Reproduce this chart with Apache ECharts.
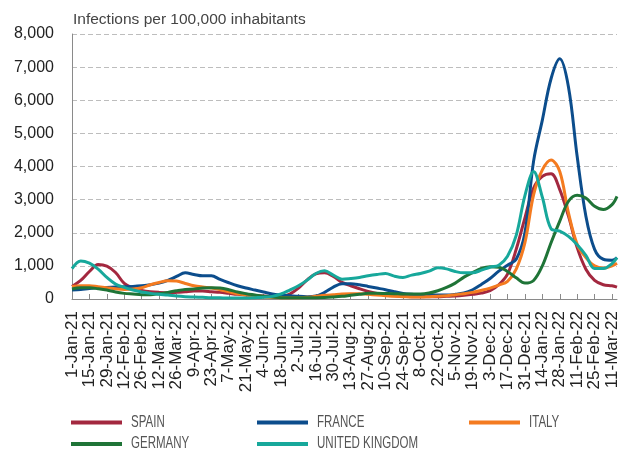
<!DOCTYPE html>
<html>
<head>
<meta charset="utf-8">
<script src="https://cdn.jsdelivr.net/npm/echarts@6/dist/echarts.min.js"></script>
<style>
  html, body { margin: 0; padding: 0; background: #fff; }
  #chart { width: 621px; height: 453px; }
</style>
</head>
<body>
<div id="chart"></div>
<script>
// Weekly sample dates (plus the last reported day)
const sampleDates = [
  '2021-01-01','2021-01-08','2021-01-15','2021-01-22','2021-01-29',
  '2021-02-05','2021-02-12','2021-02-19','2021-02-26',
  '2021-03-05','2021-03-12','2021-03-19','2021-03-26',
  '2021-04-02','2021-04-09','2021-04-16','2021-04-23','2021-04-30',
  '2021-05-07','2021-05-14','2021-05-21','2021-05-28',
  '2021-06-04','2021-06-11','2021-06-18','2021-06-25',
  '2021-07-02','2021-07-09','2021-07-16','2021-07-23','2021-07-30',
  '2021-08-06','2021-08-13','2021-08-20','2021-08-27',
  '2021-09-03','2021-09-10','2021-09-17','2021-09-24',
  '2021-10-01','2021-10-08','2021-10-15','2021-10-22','2021-10-29',
  '2021-11-05','2021-11-12','2021-11-19','2021-11-26',
  '2021-12-03','2021-12-10','2021-12-17','2021-12-24','2021-12-31',
  '2022-01-07','2022-01-14','2022-01-21','2022-01-28',
  '2022-02-04','2022-02-11','2022-02-18','2022-02-25',
  '2022-03-04','2022-03-11','2022-03-15'
];

// Infections per 100,000 inhabitants at each sample date
const spain = [
  380, 560, 830, 1040, 990, 800, 470, 330, 260,
  220, 200, 190, 200, 220, 240, 240, 220, 200,
  170, 140, 120, 100, 90, 70, 70, 150,
  330, 580, 760, 790, 680, 500, 400, 310, 230,
  170, 130, 100, 80, 70, 70, 70, 70, 80,
  90, 110, 140, 180, 250, 430, 750, 1500, 2450,
  3350, 3700, 3780, 3300, 2500, 1550, 900, 560,
  430, 400, 360
];
const france = [
  270, 290, 320, 340, 350, 360, 370, 380, 400,
  430, 480, 560, 680, 790, 740, 700, 700, 590,
  490, 400, 330, 270, 210, 150, 120, 100,
  80, 70, 90, 200, 360, 460, 460, 430, 380,
  330, 280, 220, 170, 140, 120, 120, 120, 120,
  140, 180, 280, 440, 620, 840, 1020, 1200, 2000,
  4170, 5400, 6650, 7250, 6400, 4300, 2500, 1500,
  1200, 1170, 1250
];
const italy = [
  380, 400, 400, 370, 340, 310, 290, 300, 340,
  430, 500, 550, 540, 470, 400, 360, 330, 280,
  220, 160, 120, 90, 60, 50, 40, 40,
  40, 50, 80, 110, 130, 150, 160, 160, 140,
  120, 100, 80, 70, 60, 60, 70, 80, 100,
  130, 160, 200, 260, 330, 420, 530, 900, 1700,
  3150, 3900, 4200, 3850, 2600, 1650, 1250, 1000,
  930, 1000, 1080
];
const germany = [
  300, 340, 340, 310, 270, 210, 170, 150, 130,
  130, 160, 200, 250, 290, 300, 330, 340, 330,
  280, 210, 160, 120, 80, 60, 40, 35,
  35, 40, 40, 45, 60, 80, 110, 140, 170,
  170, 165, 160, 150, 150, 150, 180, 250, 350,
  480, 660, 800, 920, 970, 960, 830, 640, 480,
  560, 1000, 1700, 2350, 2950, 3130, 3050, 2800,
  2700, 2850, 3100
];
const unitedKingdom = [
  920, 1150, 1080, 900, 650, 450, 350, 270, 210,
  170, 140, 120, 90, 70, 60, 50, 40, 35,
  30, 30, 30, 40, 50, 80, 150, 270,
  400, 570, 770, 850, 720, 600, 620, 650, 700,
  740, 770, 690, 650, 720, 770, 840, 940, 910,
  830, 790, 790, 870, 960, 1020, 1290, 1920, 3120,
  3850, 3070, 2120, 2050, 1890, 1640, 1320, 920,
  920, 1070, 1250
];

// Axis labels shown every two weeks
const tickLabels = [
  '1-Jan-21','15-Jan-21','29-Jan-21','12-Feb-21','26-Feb-21','12-Mar-21',
  '26-Mar-21','9-Apr-21','23-Apr-21','7-May-21','21-May-21','4-Jun-21',
  '18-Jun-21','2-Jul-21','16-Jul-21','30-Jul-21','13-Aug-21','27-Aug-21',
  '10-Sep-21','24-Sep-21','8-Oct-21','22-Oct-21','5-Nov-21','19-Nov-21',
  '3-Dec-21','17-Dec-21','31-Dec-21','14-Jan-22','28-Jan-22','11-Feb-22',
  '25-Feb-22','11-Mar-22'
];
const yTicks = [0, 1000, 2000, 3000, 4000, 5000, 6000, 7000, 8000];

const seriesNames = ['SPAIN', 'FRANCE', 'ITALY', 'GERMANY', 'UNITED KINGDOM'];
const seriesValues = [spain, france, italy, germany, unitedKingdom];
const seriesColors = ['#a3283f', '#0c4d8c', '#f47b20', '#1f7437', '#17a89b'];

const DAY = 86400000;
const origin = Date.UTC(2021, 0, 1);
const dayOf = s => {
  const [y, m, d] = s.split('-').map(Number);
  return Math.round((Date.UTC(y, m - 1, d) - origin) / DAY);
};
const sampleDays = sampleDates.map(dayOf);
const lastDay = sampleDays[sampleDays.length - 1];
const tickDays = tickLabels.map((_, i) => i * 14);
const labelByDay = {};
tickDays.forEach((d, i) => { labelByDay[d] = tickLabels[i]; });

const axisGrey = '#8a8a8a';
// Legend layout: three columns, two rows
const legendSlots = [
  { x: 71, y: 422.5 }, { x: 257, y: 422.5 }, { x: 469, y: 422.5 },
  { x: 71, y: 444 }, { x: 257, y: 444 }
];
const swatchWidth = 51;
const labelGap = 9;

const chart = echarts.init(document.getElementById('chart'), null, { renderer: 'canvas' });
chart.setOption({
  animation: false,
  backgroundColor: '#ffffff',
  textStyle: { fontFamily: 'Liberation Sans, Arial, sans-serif' },
  title: {
    text: 'Infections per 100,000 inhabitants',
    left: 73, top: 12, padding: 0,
    textStyle: { fontSize: 15.5, fontWeight: 'normal', color: '#444', fontFamily: 'Liberation Sans, Arial, sans-serif' }
  },
  grid: { left: 72, right: 4, top: 34, bottom: 154, containLabel: false },
  // Legend swatches; their condensed captions are drawn as graphic text below
  legend: seriesNames.map((n, i) => ({
    data: [n],
    left: legendSlots[i].x,
    top: legendSlots[i].y - 2,
    orient: 'horizontal',
    icon: 'rect',
    itemWidth: swatchWidth,
    itemHeight: 4,
    itemGap: 0,
    padding: 0,
    selectedMode: false,
    formatter: () => '',
    textStyle: { fontSize: 4, lineHeight: 4 }
  })),
  graphic: seriesNames.map((n, i) => ({
    type: 'text',
    x: legendSlots[i].x + swatchWidth + labelGap,
    y: legendSlots[i].y,
    scaleX: 0.72,
    silent: true,
    style: {
      text: n,
      fill: '#555',
      font: '16px "Liberation Sans", Arial, sans-serif',
      textVerticalAlign: 'middle',
      textAlign: 'left'
    }
  })),
  xAxis: {
    type: 'value',
    min: 0,
    max: lastDay,
    interval: 14,
    splitLine: { show: false },
    axisLine: { show: true, lineStyle: { color: axisGrey, width: 1 } },
    axisTick: { show: true, inside: true, length: 5, customValues: tickDays, lineStyle: { color: axisGrey } },
    axisLabel: {
      customValues: tickDays,
      rotate: 90,
      margin: 12,
      fontSize: 17,
      color: '#222',
      formatter: v => labelByDay[v] || ''
    }
  },
  yAxis: {
    type: 'value',
    min: 0,
    max: 8000,
    interval: 1000,
    axisLine: { show: true, lineStyle: { color: axisGrey, width: 1 } },
    axisTick: { show: false },
    splitLine: { show: true, lineStyle: { color: '#bdbdbd', type: [5, 3], width: 1 } },
    axisLabel: {
      margin: 18,
      fontSize: 16,
      color: '#222',
      formatter: v => yTicks.includes(v) ? v.toLocaleString('en-US') : ''
    }
  },
  series: seriesNames.map((n, i) => ({
    name: n,
    type: 'line',
    data: sampleDays.map((d, j) => [d, seriesValues[i][j]]),
    showSymbol: false,
    symbol: 'none',
    smooth: 0.35,
    color: seriesColors[i],
    lineStyle: { width: 3, color: seriesColors[i] },
    z: 2 + i
  }))
});
</script>
</body>
</html>
